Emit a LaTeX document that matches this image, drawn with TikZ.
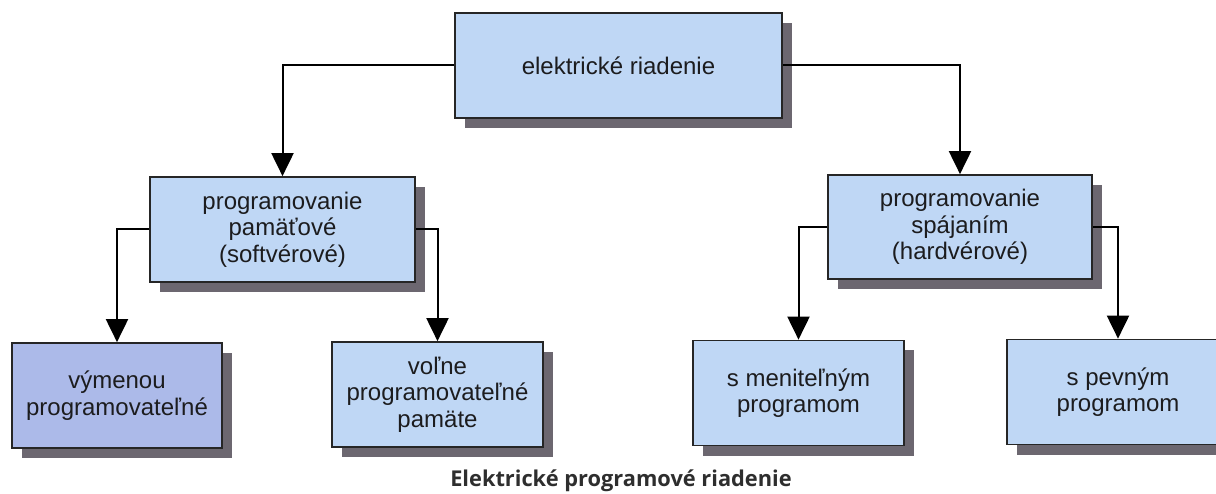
\documentclass[tikz,border=0pt]{standalone}
\usepackage{fontspec}
\setmainfont{Liberation Sans}
\newfontfamily\captionfont{Open Sans}
\usetikzlibrary{arrows.meta,shadows}
\definecolor{boxblue}{RGB}{191,215,245}
\definecolor{boxdark}{RGB}{172,186,233}
\definecolor{shadowgray}{RGB}{108,103,112}
\definecolor{textdark}{RGB}{28,28,30}
\begin{document}
\begin{tikzpicture}[x=1pt, y=-1pt,
        block/.style={
          draw=black!85,
          line width=1.7pt,
          fill=boxblue,
          align=center,
          inner sep=0pt,
          minimum height=105pt,
          minimum width=211pt,
          text=textdark,
          font=\fontsize{24}{26.5}\selectfont,
          drop shadow={shadow xshift=10pt, shadow yshift=-10pt,
            fill=shadowgray, opacity=1}
        },
        link/.style={-{Triangle[width=22pt,length=23pt]}, line width=2pt}
      ]
      \useasboundingbox (0,0) rectangle (1216,494);
      \node[block, minimum width=327pt] (control) at (618.5,65.5)
        {elektrické riadenie};
      \node[block, minimum width=265pt] (software) at (282.5,229.5)
        {programovanie\\pamäťové\\(softvérové)};
      \node[block, minimum width=264pt, minimum height=104pt] (hardware) at (960,227)
        {programovanie\\spájaním\\(hardvérové)};

      \node[block, fill=boxdark, minimum width=210pt] (exchange) at (117,395.5)
        {výmenou\\programovateľné};
      \node[block] (freemem) at (437.5,394.5)
        {voľne\\programovateľné\\pamäte};
      \node[block] (variable) at (798.5,393)
        {s meniteľným\\programom};
      \node[block, minimum width=222pt] (fixed) at (1118,392)
        {s pevným\\programom};

      \node[font=\captionfont\bfseries\fontsize{21.8}{24}\selectfont,
        text=black!82] (caption) at (621,481)
        {Elektrické programové riadenie};

      \draw[link] (control.west) -| (software.north);
      \draw[link] (control.east) -| (hardware.north);
      \draw[link] (software.west) -| (exchange.north);
      \draw[link] (software.east) -| (freemem.north);
      \draw[link] (hardware.west) -| (variable.north);
      \draw[link] (hardware.east) -| (fixed.north);
    \end{tikzpicture}
\end{document}
